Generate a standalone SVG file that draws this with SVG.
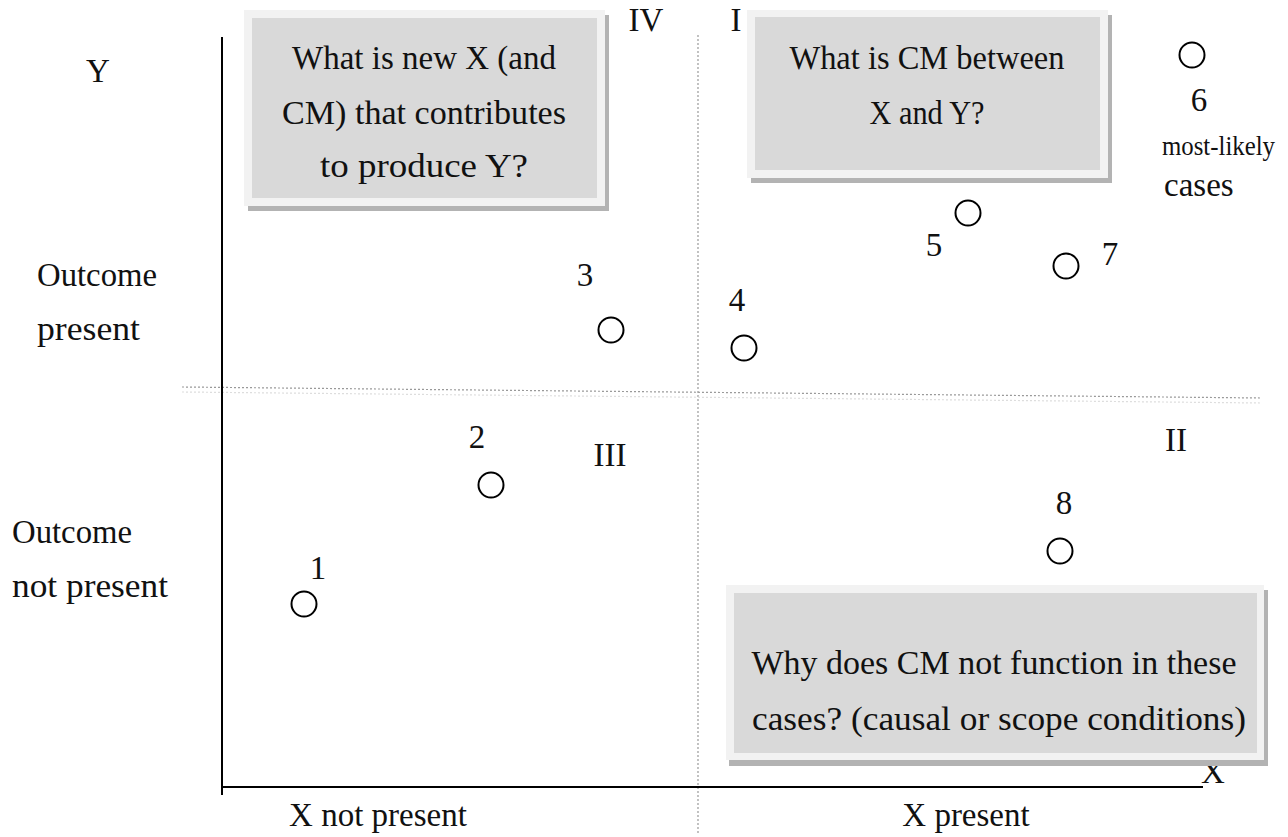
<svg xmlns="http://www.w3.org/2000/svg" width="1288" height="837" viewBox="0 0 1288 837">
<style>
text{font-family:"Liberation Serif","Times New Roman",serif;font-size:33px;fill:#111}
.c{text-anchor:middle}
.pt{fill:none;stroke:#000;stroke-width:2}
.sh{fill:#b3b3b3}
.fr{fill:#f2f2f2}
.in{fill:#d9d9d9}
.ax{stroke:#000;stroke-width:2;fill:none}
.dv{stroke:#999;stroke-width:1.2;stroke-dasharray:2 2;fill:none}
</style>
<rect width="1288" height="837" fill="#fff"/>
<g id="grid">
<line class="dv" x1="698" y1="35" x2="698" y2="834"/>
<line class="dv" x1="182" y1="387" x2="1262" y2="398"/>
<line x1="182" y1="392" x2="1262" y2="403" stroke="#ddd" stroke-width="1.2" stroke-dasharray="2 2"/>
</g>
<g id="axes">
<line class="ax" x1="222" y1="37" x2="222" y2="795"/>
<line class="ax" x1="222" y1="787" x2="1203" y2="787"/>
<text x="1213" y="783" class="c">X</text>
<text x="98" y="82" class="c">Y</text>
</g>
<g id="box-iv">
<rect class="sh" x="248" y="15" width="361" height="196"/>
<rect class="fr" x="244" y="10" width="361" height="196"/>
<rect class="in" x="252" y="18" width="345" height="180"/>
<text x="424" y="69" class="c" textLength="264" lengthAdjust="spacingAndGlyphs">What is new X (and</text>
<text x="424" y="124" class="c" textLength="284" lengthAdjust="spacingAndGlyphs">CM) that contributes</text>
<text x="424" y="177" class="c" textLength="208" lengthAdjust="spacingAndGlyphs">to produce Y?</text>
</g>
<g id="box-i">
<rect class="sh" x="751" y="15" width="361" height="168"/>
<rect class="fr" x="747" y="10" width="361" height="168"/>
<rect class="in" x="755" y="17" width="345" height="153"/>
<text x="927" y="69" class="c" textLength="275" lengthAdjust="spacingAndGlyphs">What is CM between</text>
<text x="927" y="124" class="c" textLength="115" lengthAdjust="spacingAndGlyphs">X and Y?</text>
</g>
<g id="box-ii">
<rect class="sh" x="729" y="590" width="539" height="176"/>
<rect class="fr" x="726" y="585" width="538" height="175"/>
<rect class="in" x="734" y="593" width="523" height="160"/>
<text x="994" y="674" class="c" textLength="485" lengthAdjust="spacingAndGlyphs">Why does CM not function in these</text>
<text x="999" y="730" class="c" textLength="494" lengthAdjust="spacingAndGlyphs">cases? (causal or scope conditions)</text>
</g>
<g id="quadrant-labels">
<text x="646" y="31" class="c">IV</text>
<text x="736" y="31" class="c">I</text>
<text x="610" y="466" class="c">III</text>
<text x="1176" y="451" class="c">II</text>
</g>
<g id="row-labels">
<text x="37" y="286" textLength="120" lengthAdjust="spacingAndGlyphs">Outcome</text>
<text x="37" y="340" textLength="103" lengthAdjust="spacingAndGlyphs">present</text>
<text x="12" y="543" textLength="120" lengthAdjust="spacingAndGlyphs">Outcome</text>
<text x="12" y="597" textLength="156" lengthAdjust="spacingAndGlyphs">not present</text>
<text x="378" y="826" class="c">X not present</text>
<text x="966" y="826" class="c">X present</text>
</g>
<g id="case-1"><circle class="pt" cx="304" cy="604" r="12.5"/><text x="318" y="579" class="c">1</text></g>
<g id="case-2"><circle class="pt" cx="491" cy="485" r="12.5"/><text x="477" y="448" class="c">2</text></g>
<g id="case-3"><circle class="pt" cx="611" cy="330" r="12.5"/><text x="585" y="286" class="c">3</text></g>
<g id="case-4"><circle class="pt" cx="744" cy="348" r="12.5"/><text x="737" y="311" class="c">4</text></g>
<g id="case-5"><circle class="pt" cx="968" cy="213" r="12.5"/><text x="934" y="256" class="c">5</text></g>
<g id="case-6"><circle class="pt" cx="1192" cy="55" r="12.5"/><text x="1199" y="111" class="c">6</text><text x="1162" y="155" style="font-size:27.5px" textLength="113" lengthAdjust="spacingAndGlyphs">most-likely</text><text x="1164" y="196">cases</text></g>
<g id="case-7"><circle class="pt" cx="1066" cy="266" r="12.5"/><text x="1110" y="265" class="c">7</text></g>
<g id="case-8"><circle class="pt" cx="1060" cy="551" r="12.5"/><text x="1064" y="514" class="c">8</text></g>
</svg>
